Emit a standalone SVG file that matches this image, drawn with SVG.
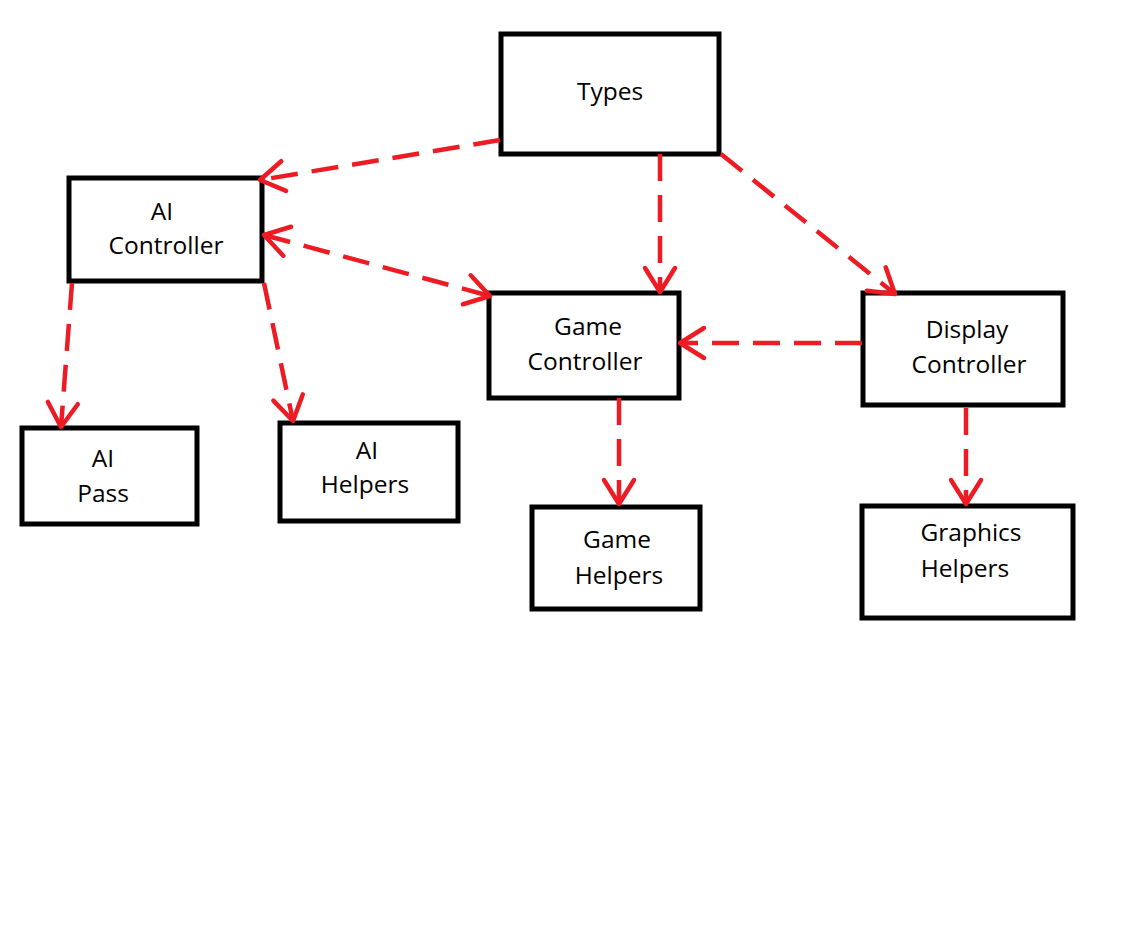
<svg xmlns="http://www.w3.org/2000/svg" width="1128" height="952" viewBox="0 0 1128 952">
<style>
.box{fill:#fff;stroke:#000;stroke-width:5}
.lbl{font-family:"Open Sans","Noto Sans",sans-serif;font-size:24.5px;fill:#000;text-anchor:middle}
.c{fill:none;stroke:#ED1C24;stroke-width:4.5;stroke-dasharray:27 14}
</style>
<defs>
<marker id="ah" markerUnits="userSpaceOnUse" markerWidth="40" markerHeight="40" viewBox="-30 -20 40 40" refX="0" refY="0" orient="auto-start-reverse">
<path d="M-24,-15 L0,0 L-24,15" fill="none" stroke="#ED1C24" stroke-width="4.5" stroke-linecap="round" stroke-linejoin="round"/>
</marker>
</defs>
<rect width="1128" height="952" fill="#fff"/>
<g id="types"><rect class="box" x="501" y="34" width="218" height="120"/><text class="lbl" x="610" y="100">Types</text></g>
<g id="ai-controller"><rect class="box" x="69" y="178" width="193" height="103"/><text class="lbl" x="162" y="220">AI</text><text class="lbl" x="166" y="254">Controller</text></g>
<g id="game-controller"><rect class="box" x="489" y="293" width="190" height="105"/><text class="lbl" x="588" y="335">Game</text><text class="lbl" x="585" y="370">Controller</text></g>
<g id="display-controller"><rect class="box" x="863" y="293" width="200" height="112"/><text class="lbl" x="967" y="338">Display</text><text class="lbl" x="969" y="373">Controller</text></g>
<g id="ai-pass"><rect class="box" x="22" y="428" width="175" height="96"/><text class="lbl" x="103" y="467">AI</text><text class="lbl" x="103" y="502">Pass</text></g>
<g id="ai-helpers"><rect class="box" x="280" y="423" width="178" height="98"/><text class="lbl" x="367" y="459">AI</text><text class="lbl" x="365" y="493">Helpers</text></g>
<g id="game-helpers"><rect class="box" x="532" y="507" width="168" height="102"/><text class="lbl" x="617" y="548">Game</text><text class="lbl" x="619" y="584">Helpers</text></g>
<g id="graphics-helpers"><rect class="box" x="862" y="506" width="211" height="112"/><text class="lbl" x="971" y="541">Graphics</text><text class="lbl" x="965" y="577">Helpers</text></g>
<g id="connectors">
<line class="c" x1="500" y1="140" x2="260" y2="180" marker-end="url(#ah)"/>
<line class="c" x1="660" y1="154" x2="660" y2="292" marker-end="url(#ah)"/>
<line class="c" x1="721" y1="154" x2="895" y2="294" marker-end="url(#ah)"/>
<line class="c" x1="264" y1="235" x2="490" y2="296" marker-start="url(#ah)" marker-end="url(#ah)"/>
<line class="c" x1="72" y1="283" x2="61" y2="427" marker-end="url(#ah)"/>
<line class="c" x1="264" y1="283" x2="293" y2="421" marker-end="url(#ah)"/>
<line class="c" x1="862" y1="343" x2="680" y2="343" marker-end="url(#ah)"/>
<line class="c" x1="619" y1="398" x2="619" y2="504" marker-end="url(#ah)"/>
<line class="c" x1="966" y1="408" x2="966" y2="504" marker-end="url(#ah)"/>
</g>
</svg>
